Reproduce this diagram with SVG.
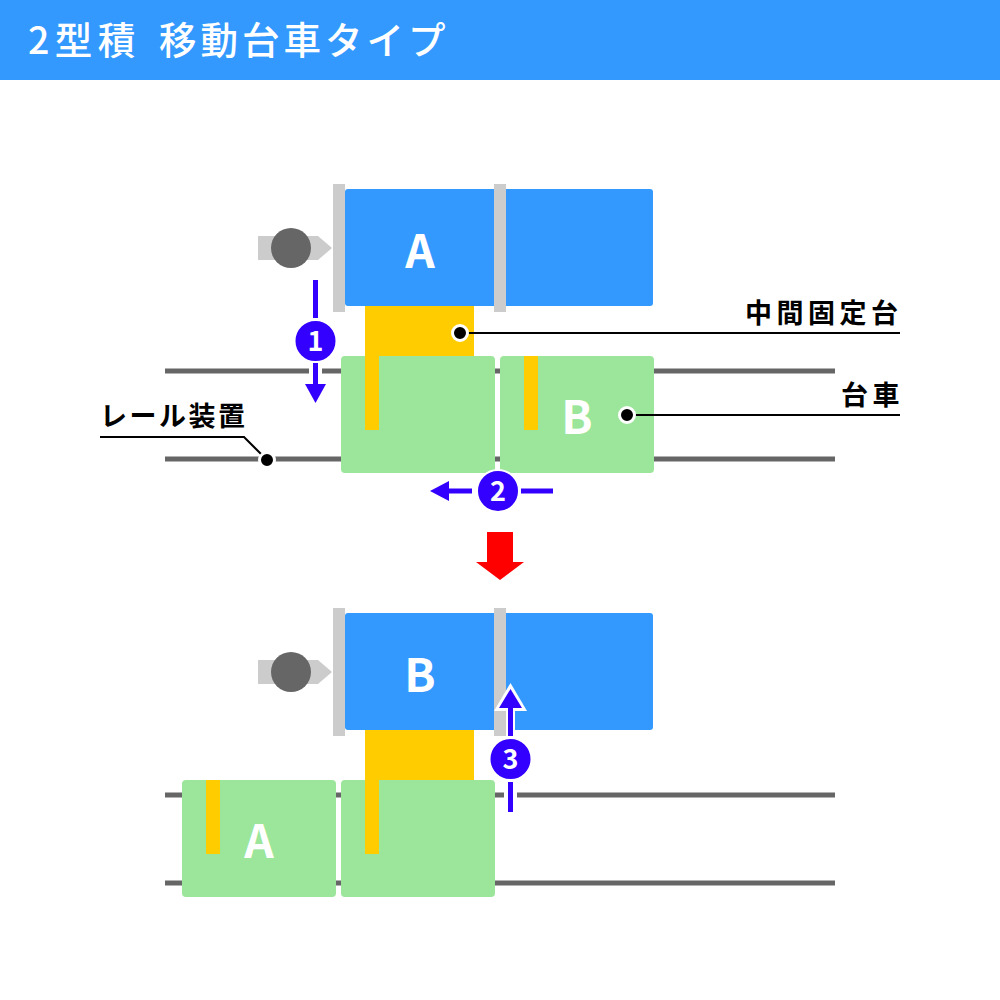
<svg xmlns="http://www.w3.org/2000/svg" width="1000" height="1000" viewBox="0 0 1000 1000">
<style>
.blue{fill:#3399ff}
.green{fill:#9be69b}
.yellow{fill:#ffcc00}
.gray{fill:#cccccc}
.rail{stroke:#666666;stroke-width:5;fill:none}
.lead{stroke:#000000;stroke-width:2;fill:none}
.dot{fill:#000000;stroke:#ffffff;stroke-width:3}
.step{stroke:#3300ff;stroke-width:5;fill:none}
.head{fill:#3300ff}
.badge{fill:#3300ff;stroke:#ffffff;stroke-width:2}
text{font-family:"Noto Sans CJK JP","Noto Sans",sans-serif;font-weight:700}
.big{font-size:46px;fill:#ffffff;text-anchor:middle;font-family:"Noto Sans CJK JP","Noto Sans",sans-serif}
.num{font-size:27px;fill:#ffffff;text-anchor:middle;font-family:"Noto Sans CJK JP","Noto Sans",sans-serif}
.lab{font-size:27px;fill:#000000;letter-spacing:4.5px}
</style>
<rect width="1000" height="1000" fill="#ffffff"/>
<g id="title"><rect width="1000" height="80" fill="#3399ff"/><text y="54" font-size="37.500" fill="#ffffff" style="font-weight:500"><tspan x="28" letter-spacing="5.500">2型積</tspan> <tspan x="159" letter-spacing="4">移動台車タイプ</tspan></text></g>

<g id="rails">
<line class="rail" x1="165" y1="371" x2="835" y2="371"/>
<line class="rail" x1="165" y1="459" x2="835" y2="459"/>
<line class="rail" x1="165" y1="795" x2="835" y2="795"/>
<line class="rail" x1="165" y1="883" x2="835" y2="883"/>
</g>

<g id="stopper-top"><polygon class="gray" points="258,236 318,236 332,248 318,260 258,260"/><circle cx="291" cy="248" r="20" fill="#666666"/></g>
<g id="platform-top"><rect class="yellow" x="365" y="306" width="109" height="52"/></g>
<g id="pallet-top"><rect class="blue" x="345" y="189" width="308" height="117" rx="3"/><rect class="gray" x="333" y="184" width="12" height="128"/><rect class="gray" x="494" y="184" width="12" height="128"/><text class="big" x="420" y="268">A</text></g>
<g id="cart-left-top"><rect class="green" x="341" y="356" width="154" height="117" rx="4"/><rect class="yellow" x="365" y="356" width="14" height="74"/></g>
<g id="cart-b-top"><rect class="green" x="500" y="356" width="154" height="117" rx="4"/><rect class="yellow" x="524" y="356" width="14" height="74"/><text class="big" x="577" y="434">B</text></g>

<g id="stopper-bottom"><polygon class="gray" points="258,660 318,660 332,672 318,684 258,684"/><circle cx="291" cy="672" r="20" fill="#666666"/></g>
<g id="platform-bottom"><rect class="yellow" x="365" y="730" width="109" height="52"/></g>
<g id="pallet-bottom"><rect class="blue" x="345" y="613" width="308" height="117" rx="3"/><rect class="gray" x="333" y="608" width="12" height="128"/><rect class="gray" x="494" y="608" width="12" height="128"/><text class="big" x="420" y="692">B</text></g>
<g id="cart-a-bottom"><rect class="green" x="182" y="780" width="154" height="117" rx="4"/><rect class="yellow" x="206" y="780" width="14" height="74"/><text class="big" x="259" y="858">A</text></g>
<g id="cart-right-bottom"><rect class="green" x="341" y="780" width="154" height="117" rx="4"/><rect class="yellow" x="365" y="780" width="14" height="74"/></g>

<g id="connectors">
<line class="lead" x1="460" y1="333" x2="900" y2="333"/>
<line class="lead" x1="627" y1="415" x2="900" y2="415"/>
<polyline class="lead" points="100,437 244,437 267,460"/>
<circle class="dot" cx="460" cy="333" r="7.500"/>
<circle class="dot" cx="627" cy="415" r="7.500"/>
<circle class="dot" cx="267" cy="460" r="7.500"/>

<line x1="315.500" y1="362" x2="315.500" y2="382" stroke="#ffffff" stroke-width="13"/>
<line class="step" x1="315.500" y1="280" x2="315.500" y2="318"/>
<line class="step" x1="315.500" y1="363" x2="315.500" y2="386"/>
<polygon class="head" points="305,384 326,384 315.500,403"/>

<line class="step" x1="449" y1="491" x2="472" y2="491"/>
<line class="step" x1="521" y1="491" x2="553" y2="491"/>
<polygon class="head" points="430,491 449,481 449,501"/>

<line x1="510.500" y1="780" x2="510.500" y2="810" stroke="#ffffff" stroke-width="13"/>
<polygon points="510.500,683 527,711 494,711" fill="#ffffff"/>
<line x1="510.500" y1="705" x2="510.500" y2="736" stroke="#ffffff" stroke-width="9"/>
<line class="step" x1="510.500" y1="706" x2="510.500" y2="736"/>
<polygon class="head" points="510.500,689 522,708 499,708"/>
<line class="step" x1="510.500" y1="782" x2="510.500" y2="812"/>
</g>

<g id="step1"><circle class="badge" cx="315.500" cy="341" r="21"/><text class="num" x="315.500" y="351">1</text></g>
<g id="step2"><circle class="badge" cx="498" cy="491" r="21" stroke-width="3"/><text class="num" x="498" y="501">2</text></g>
<g id="step3"><circle class="badge" cx="510.500" cy="759" r="21"/><text class="num" x="510.500" y="769">3</text></g>

<g id="red-arrow"><polygon points="487,532 513,532 513,562 524,562 500,580 476,562 487,562" fill="#ff0000"/></g>

<g id="label-rail"><text class="lab" x="100" y="426" style="letter-spacing:2.500px">レール装置</text></g>
<g id="label-platform"><text class="lab" x="745" y="323">中間固定台</text></g>
<g id="label-cart"><text class="lab" x="841" y="405">台車</text></g>
</svg>
